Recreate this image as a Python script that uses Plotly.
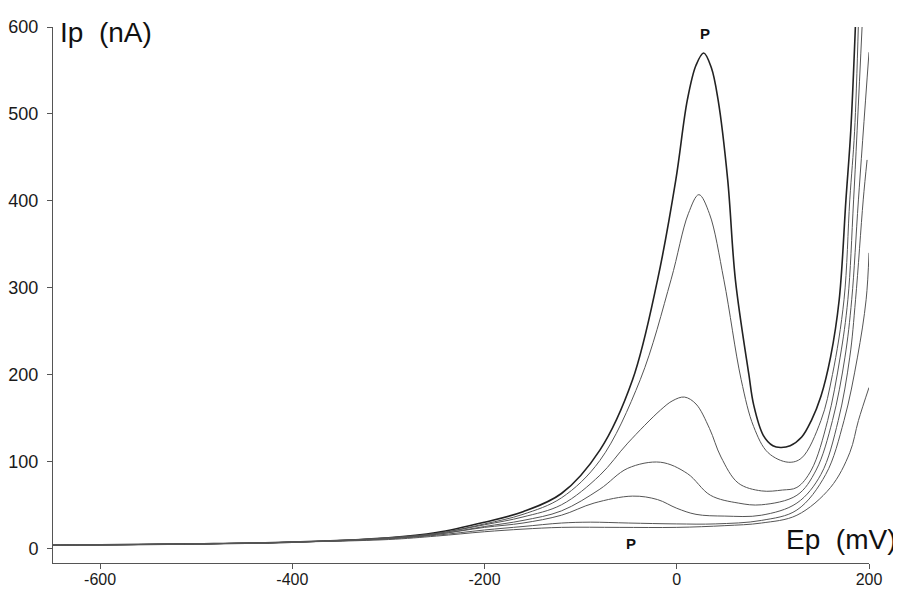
import plotly.graph_objects as go

# potentials (mV) and currents (nA)
ep_a = [-650, -500, -400, -300, -250, -200, -160, -120, -80, -46, -20, -1, 11, 20, 28, 36, 43, 53, 61, 75, 80, 90, 100, 108, 118, 130, 140, 150, 160, 169, 176, 181, 186]
ip_a = [3.5, 5, 7, 12, 18, 30, 42, 63, 113, 194, 309, 424, 516, 556, 570, 553, 516, 424, 309, 200, 165, 130, 118, 116, 118, 128, 147, 175, 220, 286, 401, 480, 605]

ep_b = [-650, -500, -400, -300, -250, -200, -160, -120, -80, -38, -6, 12, 23, 34, 49, 67, 80, 95, 116, 130, 150, 162, 174, 180, 185, 189]
ip_b = [3.5, 5, 7, 12, 17, 28, 39, 58, 101, 194, 309, 385, 407, 385, 309, 194, 140, 110, 99, 104, 147, 200, 286, 401, 480, 605]

ep_c = [-650, -500, -400, -300, -250, -200, -160, -120, -80, -51, -17, -4, 8, 20, 34, 46, 64, 88, 110, 125, 140, 157, 170, 178, 184, 193]
ip_c = [3.5, 5, 7, 12, 17, 27, 36, 50, 84, 121, 159, 170, 174, 166, 138, 105, 75, 66, 67, 70, 90, 147, 220, 286, 401, 605]

ep_d = [-650, -500, -400, -300, -250, -200, -160, -120, -80, -51, -17, 11, 35, 64, 88, 125, 145, 162, 175, 182, 189, 200]
ip_d = [3.5, 5, 7, 11, 16, 25, 32, 43, 68, 92, 99, 86, 61, 52, 50, 61, 90, 147, 220, 286, 401, 571]

ep_e = [-650, -500, -400, -300, -250, -200, -160, -120, -86, -46, -20, 0, 20, 50, 88, 125, 150, 168, 180, 186, 194, 198]
ip_e = [3.5, 5, 7, 11, 16, 24, 29, 38, 52, 60, 56, 46, 39, 37, 38, 52, 85, 147, 220, 286, 401, 447]

ep_f = [-650, -500, -400, -300, -250, -200, -160, -120, -90, -50, 0, 40, 88, 125, 155, 174, 188, 197, 200]
ip_f = [3.5, 5, 7, 11, 15, 21, 25, 29, 30, 29, 28, 28, 32, 44, 85, 147, 220, 286, 340]

ep_g = [-650, -500, -400, -300, -250, -200, -160, -120, -60, 0, 50, 88, 125, 160, 180, 189, 200]
ip_g = [3.5, 5, 7, 10, 14, 19, 22, 24, 24, 24, 26, 29, 38, 70, 110, 147, 185]

curves = [(ep_a, ip_a), (ep_b, ip_b), (ep_c, ip_c), (ep_d, ip_d),
          (ep_e, ip_e), (ep_f, ip_f), (ep_g, ip_g)]

x_ticks = [-600, -400, -200, 0, 200]
x_tick_labels = ["-600", "-400", "-200", "0", "200"]
y_ticks = [0, 100, 200, 300, 400, 500, 600]

fig = go.Figure()

for i, (ep, ip) in enumerate(curves):
    fig.add_trace(go.Scatter(
        x=ep, y=ip, mode="lines",
        line=dict(color="#222222" if i == 0 else "#555555",
                  width=1.6 if i == 0 else 1.0,
                  shape="spline", smoothing=1.0),
        showlegend=False, hoverinfo="skip"))

font_fam = "Arial, Liberation Sans, sans-serif"

# page body has an 8px margin, so the figure is a bit smaller than the window
fig.update_layout(
    width=893, height=581,
    margin=dict(l=45, r=32, t=19, b=26, autoexpand=False),
    paper_bgcolor="white", plot_bgcolor="white",
    xaxis=dict(range=[-649, 200], tickvals=x_ticks, ticktext=x_tick_labels,
               showgrid=False, zeroline=False, showline=True, linecolor="#555555",
               linewidth=1, ticks="outside", ticklen=5, tickcolor="#555555",
               tickfont=dict(family=font_fam, size=16, color="#1a1a1a"),
               ticklabelstandoff=-3, automargin=False),
    yaxis=dict(range=[-17, 600], tickvals=y_ticks,
               showgrid=False, zeroline=False, showline=True, linecolor="#555555",
               linewidth=1, ticks="outside", ticklen=5, tickcolor="#555555",
               tickfont=dict(family=font_fam, size=18, color="#1a1a1a"),
               ticklabelstandoff=5, automargin=False),
)

fig.add_annotation(text="Ip  (nA)", xref="paper", yref="paper", x=0.006, y=1.022,
                   xanchor="left", yanchor="top", showarrow=False,
                   font=dict(family=font_fam, size=28, color="#111111"))
fig.add_annotation(text="Ep  (mV)", xref="paper", yref="paper", x=1.035, y=0.043,
                   xanchor="right", yanchor="middle", showarrow=False,
                   font=dict(family=font_fam, size=28, color="#111111"))
fig.add_annotation(text="<b>P</b>", x=29, y=593, showarrow=False,
                   font=dict(family=font_fam, size=15, color="#111111"))
fig.add_annotation(text="<b>P</b>", x=-48, y=5, showarrow=False,
                   font=dict(family=font_fam, size=15, color="#111111"))

fig.write_html("out.html")
